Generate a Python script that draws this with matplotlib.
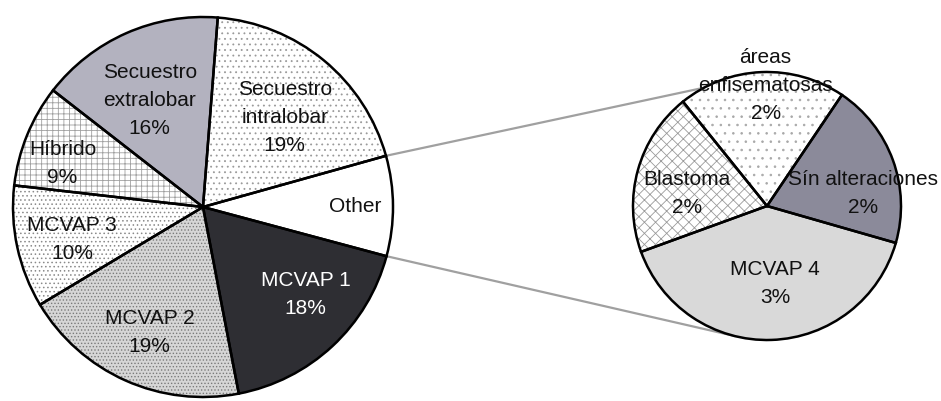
import numpy as np
import matplotlib
matplotlib.use("Agg")
import matplotlib.pyplot as plt

# ---------------- data ----------------
main_labels = ["Other", "Secuestro\nintralobar", "Secuestro\nextralobar", "Híbrido",
               "MCVAP 3", "MCVAP 2", "MCVAP 1"]
main_values = [8.5, 19.4, 15.7, 8.7, 10.4, 19.4, 17.8]

sub_labels = ["Sín alteraciones", "áreas\nenfisematosas", "Blastoma", "MCVAP 4"]
sub_values = [1.7, 1.72, 1.68, 3.4]

# ---------------- styles ----------------
main_faces = ["white", "white", "#b3b2bf", "white", "white", "#d6d6d6", "#2e2e33"]
main_hatch = [None, "...", None, "+++", "....", ".....", None]
main_hatch_col = ["white", "#9a9a9a", "#b3b2bf", "#a0a0a0", "#8a8a8a", "#7a7a7a", "#2e2e33"]
main_text_col = ["#111", "#111", "#111", "#111", "#111", "#111", "white"]
# label anchor offsets (in units of radius) relative to the pie centre
main_label_off = [(0.80, 0.0), (0.43, 0.47), (-0.28, 0.56), (-0.74, 0.23),
                  (-0.69, -0.17), (-0.28, -0.66), (0.54, -0.46)]

sub_faces = ["#8b8a9a", "white", "white", "#d9d9d9"]
sub_hatch = [None, "..", "xxx", None]
sub_hatch_col = ["#8b8a9a", "#a8a8a8", "#9a9a9a", "#d9d9d9"]
sub_label_off = [(0.72, 0.09), (-0.01, 0.90), (-0.60, 0.09), (0.06, -0.58)]

W, H = 941, 401
fig = plt.figure(figsize=(W / 100, H / 100), dpi=100)
ax = fig.add_axes([0, 0, 1, 1])

plt.rcParams["hatch.linewidth"] = 0.6
font = ["Liberation Sans", "DejaVu Sans"]

main_c, main_r = (203, 401 - 207), 190
sub_c, sub_r = (767, 401 - 206), 134


def draw_pie(values, center, radius, start, faces, hatches, hcols):
    wedges, _ = ax.pie(values, center=center, radius=radius, startangle=start,
                       counterclock=True, frame=True, colors=faces,
                       wedgeprops=dict(linewidth=0))
    for w, h, hc in zip(wedges, hatches, hcols):
        w.set_edgecolor(hc)
        w.set_linewidth(0)
        if h:
            w.set_hatch(h)
    ax.pie(values, center=center, radius=radius, startangle=start,
           counterclock=True, frame=True,
           wedgeprops=dict(facecolor="none", edgecolor="black", linewidth=1.8))
    return wedges


mw = draw_pie(main_values, main_c, main_r, -15, main_faces, main_hatch, main_hatch_col)
sw = draw_pie(sub_values, sub_c, sub_r, -16, sub_faces, sub_hatch, sub_hatch_col)
ax.set_xlim(0, W)
ax.set_ylim(0, H)
ax.set_aspect("equal")
ax.axis("off")

# connector lines from "Other" wedge edges to the secondary pie
other = mw[0]
a1, a2 = np.deg2rad(other.theta2), np.deg2rad(other.theta1)
s1, s2 = np.deg2rad(118), np.deg2rad(-104.5)
ax.plot([main_c[0] + main_r * np.cos(a1), sub_c[0] + sub_r * np.cos(s1)],
        [main_c[1] + main_r * np.sin(a1), sub_c[1] + sub_r * np.sin(s1)],
        color="#a0a0a0", lw=1.6, zorder=0.5)
ax.plot([main_c[0] + main_r * np.cos(a2), sub_c[0] + sub_r * np.cos(s2)],
        [main_c[1] + main_r * np.sin(a2), sub_c[1] + sub_r * np.sin(s2)],
        color="#a0a0a0", lw=1.6, zorder=0.5)

for lab, v, off, tc in zip(main_labels, main_values, main_label_off, main_text_col):
    txt = lab if lab == "Other" else f"{lab}\n{round(v)}%"
    ax.text(main_c[0] + off[0] * main_r, main_c[1] + off[1] * main_r, txt,
            ha="center", va="center", fontsize=15, color=tc, family=font,
            linespacing=1.6, zorder=5)

for lab, v, off in zip(sub_labels, sub_values, sub_label_off):
    txt = f"{lab}\n{round(v)}%"
    ax.text(sub_c[0] + off[0] * sub_r, sub_c[1] + off[1] * sub_r, txt,
            ha="center", va="center", fontsize=15, color="#111", family=font,
            linespacing=1.6, zorder=5)

fig.savefig("out.png", dpi=100, facecolor="white")
